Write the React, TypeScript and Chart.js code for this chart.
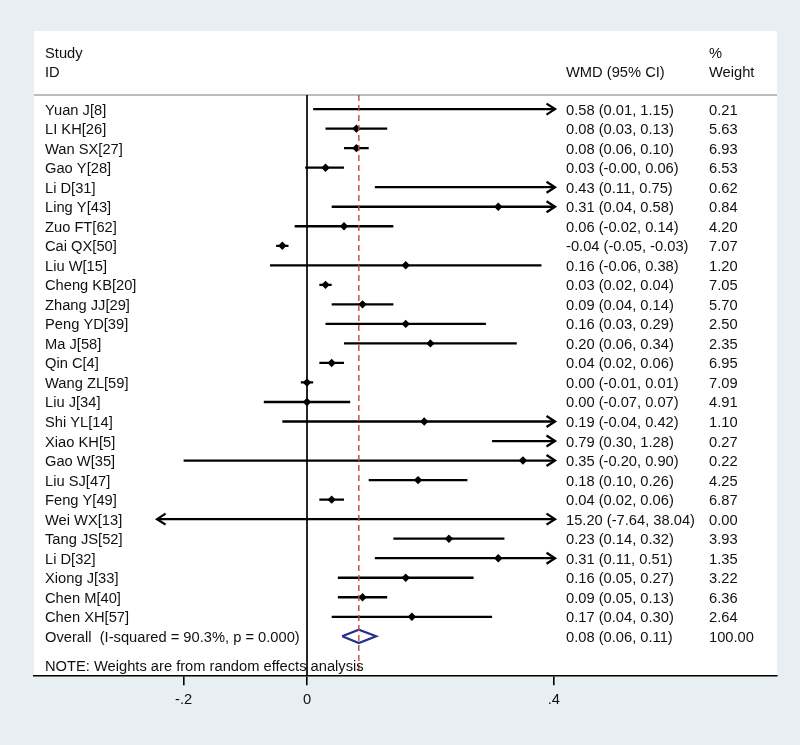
import React, { useEffect, useRef } from "react";
import { Chart, registerables } from "chart.js";
Chart.register(...registerables);

const studies = ["Yuan J[8]", "LI KH[26]", "Wan SX[27]", "Gao Y[28]", "Li D[31]", "Ling Y[43]", "Zuo FT[62]", "Cai QX[50]", "Liu W[15]", "Cheng KB[20]", "Zhang JJ[29]", "Peng YD[39]", "Ma J[58]", "Qin C[4]", "Wang ZL[59]", "Liu J[34]", "Shi YL[14]", "Xiao KH[5]", "Gao W[35]", "Liu SJ[47]", "Feng Y[49]", "Wei WX[13]", "Tang JS[52]", "Li D[32]", "Xiong J[33]", "Chen M[40]", "Chen XH[57]"];
const estimates = [0.58, 0.08, 0.08, 0.03, 0.43, 0.31, 0.06, -0.04, 0.16, 0.03, 0.09, 0.16, 0.20, 0.04, 0.00, 0.00, 0.19, 0.79, 0.35, 0.18, 0.04, 15.20, 0.23, 0.31, 0.16, 0.09, 0.17];
const lowerCI = [0.01, 0.03, 0.06, -0.003, 0.11, 0.04, -0.02, -0.05, -0.06, 0.02, 0.04, 0.03, 0.06, 0.02, -0.01, -0.07, -0.04, 0.30, -0.20, 0.10, 0.02, -7.64, 0.14, 0.11, 0.05, 0.05, 0.04];
const upperCI = [1.15, 0.13, 0.10, 0.06, 0.75, 0.58, 0.14, -0.03, 0.38, 0.04, 0.14, 0.29, 0.34, 0.06, 0.01, 0.07, 0.42, 1.28, 0.90, 0.26, 0.06, 38.04, 0.32, 0.51, 0.27, 0.13, 0.30];
const weights = [0.21, 5.63, 6.93, 6.53, 0.62, 0.84, 4.20, 7.07, 1.20, 7.05, 5.70, 2.50, 2.35, 6.95, 7.09, 4.91, 1.10, 0.27, 0.22, 4.25, 6.87, 0.00, 3.93, 1.35, 3.22, 6.36, 2.64];

const overallLabel = "Overall  (I-squared = 90.3%, p = 0.000)";
const overallEst = 0.084;
const overallLo = 0.057;
const overallHi = 0.112;
const overallWeight = 100.0;
const noteText = "NOTE: Weights are from random effects analysis";

const xTicks = [-0.2, 0, 0.4];
const xTickLabels = ["-.2", "0", ".4"];

// display window of the x axis and the clipping limits for CIs (arrows)
const axisMin = -0.4425;
const axisMax = 0.7618;
const clipMin = -0.243;
const clipMax = 0.402;

// row layout (row units)
const rowMin = -4;
const rowMax = 29;
const headerRow1 = -2.92;
const headerRow2 = -1.92;
const sepRow = -0.72;
const overallRow = studies.length;
const noteRow = 28.5;

const FONT = '"Liberation Sans", Arial, Helvetica, sans-serif';
const FS = 14.7;
const BG = "#e8eff2";
const TEXT = "#111111";
const RED = "#c04444";
const NAVY = "#22318e";

const COL_STUDY = 45;
const COL_CI = 566;
const COL_W = 709;

function fmtCI(e: number, l: number, h: number) {
  return `${e.toFixed(2)} (${l.toFixed(2)}, ${h.toFixed(2)})`;
}

export default function App() {
  const ref = useRef<HTMLCanvasElement | null>(null);

  useEffect(() => {
    document.body.style.margin = "0";
    const canvas = ref.current!;
    const datasets: any[] = [];

    // zero line
    datasets.push({
      data: [{ x: 0, y: sepRow }, { x: 0, y: rowMax }],
      showLine: true, borderColor: "#000", borderWidth: 1.7, pointRadius: 0,
    });
    // overall reference dashed line
    datasets.push({
      data: [{ x: overallEst, y: sepRow }, { x: overallEst, y: rowMax }],
      showLine: true, borderColor: RED, borderWidth: 1.4, borderDash: [6, 4], pointRadius: 0,
    });
    // CI lines
    studies.forEach((_, i) => {
      datasets.push({
        data: [
          { x: Math.max(lowerCI[i], clipMin), y: i },
          { x: Math.min(upperCI[i], clipMax), y: i },
        ],
        showLine: true, borderColor: "#000", borderWidth: 2.3, pointRadius: 0,
        borderCapStyle: "butt",
      });
    });
    // point estimates
    datasets.push({
      data: studies
        .map((_, i) => ({ x: estimates[i], y: i }))
        .filter((p) => p.x >= clipMin && p.x <= clipMax),
      pointStyle: "rectRot", pointRadius: 4.2, backgroundColor: "#000", borderColor: "#000", borderWidth: 0,
    });
    // overall diamond
    const dh = 0.34;
    datasets.push({
      data: [
        { x: overallLo, y: overallRow },
        { x: overallEst, y: overallRow - dh },
        { x: overallHi, y: overallRow },
        { x: overallEst, y: overallRow + dh },
        { x: overallLo, y: overallRow },
      ],
      showLine: true, borderColor: NAVY, borderWidth: 2.2, pointRadius: 0, tension: 0, fill: false,
      borderJoinStyle: "miter",
    });

    const forestPlugin = {
      id: "forest",
      beforeDraw(chart: any) {
        const { ctx, chartArea: a } = chart;
        ctx.save();
        ctx.fillStyle = BG;
        ctx.fillRect(0, 0, chart.width, chart.height);
        ctx.fillStyle = "#ffffff";
        ctx.fillRect(a.left, a.top, a.right - a.left, a.bottom - a.top);
        ctx.restore();
      },
      beforeDatasetsDraw(chart: any) {
        const { ctx, chartArea: a, scales } = chart;
        const y = scales.y.getPixelForValue(sepRow);
        ctx.save();
        ctx.strokeStyle = "#a4a6ad";
        ctx.lineWidth = 1.5;
        ctx.beginPath();
        ctx.moveTo(a.left, y);
        ctx.lineTo(a.right, y);
        ctx.stroke();
        ctx.restore();
      },
      afterDatasetsDraw(chart: any) {
        const { ctx, scales } = chart;
        const xs = scales.x, ys = scales.y;
        ctx.save();
        // arrows
        ctx.strokeStyle = "#000";
        ctx.lineWidth = 2.3;
        ctx.lineJoin = "miter";
        studies.forEach((_, i) => {
          const py = ys.getPixelForValue(i);
          if (upperCI[i] > clipMax) {
            const px = xs.getPixelForValue(clipMax);
            ctx.beginPath();
            ctx.moveTo(px - 8.5, py - 5.5);
            ctx.lineTo(px, py);
            ctx.lineTo(px - 8.5, py + 5.5);
            ctx.stroke();
          }
          if (lowerCI[i] < clipMin) {
            const px = xs.getPixelForValue(clipMin);
            ctx.beginPath();
            ctx.moveTo(px + 8.5, py - 5.5);
            ctx.lineTo(px, py);
            ctx.lineTo(px + 8.5, py + 5.5);
            ctx.stroke();
          }
        });
        // texts
        ctx.fillStyle = TEXT;
        ctx.font = `${FS}px ${FONT}`;
        ctx.textAlign = "left";
        ctx.textBaseline = "alphabetic";
        const base = (r: number) => ys.getPixelForValue(r) + 5.5;
        ctx.fillText("Study", COL_STUDY, base(headerRow1));
        ctx.fillText("ID", COL_STUDY, base(headerRow2));
        ctx.fillText("WMD (95% CI)", COL_CI, base(headerRow2));
        ctx.fillText("%", COL_W, base(headerRow1));
        ctx.fillText("Weight", COL_W, base(headerRow2));
        studies.forEach((s, i) => {
          ctx.fillText(s, COL_STUDY, base(i));
          ctx.fillText(fmtCI(estimates[i], lowerCI[i], upperCI[i]), COL_CI, base(i));
          ctx.fillText(weights[i].toFixed(2), COL_W, base(i));
        });
        ctx.fillText(overallLabel, COL_STUDY, base(overallRow));
        ctx.fillText(fmtCI(overallEst, overallLo, overallHi), COL_CI, base(overallRow));
        ctx.fillText(overallWeight.toFixed(2), COL_W, base(overallRow));
        ctx.fillText(noteText, COL_STUDY, base(noteRow));
        ctx.restore();
      },
    };

    const chart = new Chart(canvas, {
      type: "scatter",
      data: { datasets },
      options: {
        animation: false,
        responsive: false,
        devicePixelRatio: 1,
        layout: { padding: { left: 34, right: 23, top: 31, bottom: 30 } },
        plugins: { legend: { display: false }, tooltip: { enabled: false } },
        elements: { line: { tension: 0 } },
        scales: {
          x: {
            type: "linear",
            min: axisMin,
            max: axisMax,
            afterBuildTicks: (s: any) => {
              s.ticks = xTicks.map((v) => ({ value: v }));
            },
            ticks: {
              autoSkip: false,
              maxRotation: 0,
              padding: 6,
              color: TEXT,
              font: { family: FONT, size: FS },
              callback: (v: any) => {
                const k = xTicks.findIndex((t) => Math.abs(t - Number(v)) < 1e-9);
                return k >= 0 ? xTickLabels[k] : "";
              },
            },
            grid: { drawOnChartArea: false, drawTicks: true, tickLength: 10, color: "#000", lineWidth: 1.6 },
            border: { display: true, color: "#000", width: 1.6 },
          },
          y: {
            type: "linear",
            display: false,
            min: rowMin,
            max: rowMax,
            reverse: true,
          },
        },
      },
      plugins: [forestPlugin],
    });
    return () => chart.destroy();
  }, []);

  return (
    <div style={{ position: "fixed", left: 0, top: 0, width: 800, height: 745 }}>
      <canvas ref={ref} width={800} height={745} style={{ display: "block", width: 800, height: 745 }} />
    </div>
  );
}
